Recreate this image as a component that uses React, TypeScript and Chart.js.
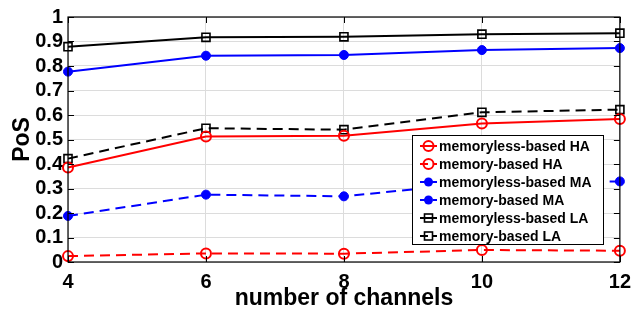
import React, { useEffect, useRef } from "react";
import { Chart, registerables } from "chart.js";

Chart.register(...registerables);

const channels = ["4", "6", "8", "10", "12"];
const memorylessHA = [0.386, 0.512, 0.515, 0.565, 0.584];
const memoryHA = [0.024, 0.035, 0.034, 0.049, 0.046];
const memorylessMA = [0.777, 0.842, 0.845, 0.865, 0.873];
const memoryMA = [0.188, 0.275, 0.268, 0.325, 0.329];
const memorylessLA = [0.879, 0.917, 0.919, 0.93, 0.934];
const memoryLA = [0.422, 0.546, 0.54, 0.611, 0.622];
const yTicks = [0, 0.1, 0.2, 0.3, 0.4, 0.5, 0.6, 0.7, 0.8, 0.9, 1];

const RED = "#ff0000";
const BLUE = "#0000ff";
const BLACK = "#000000";
const DASH = [10, 6];

type SeriesDef = {
  label: string;
  data: number[];
  color: string;
  dashed: boolean;
  marker: "circle" | "dot" | "rect";
};

const series: SeriesDef[] = [
  { label: "memoryless-based HA", data: memorylessHA, color: RED, dashed: false, marker: "circle" },
  { label: "memory-based HA", data: memoryHA, color: RED, dashed: true, marker: "circle" },
  { label: "memoryless-based MA", data: memorylessMA, color: BLUE, dashed: false, marker: "dot" },
  { label: "memory-based MA", data: memoryMA, color: BLUE, dashed: true, marker: "dot" },
  { label: "memoryless-based LA", data: memorylessLA, color: BLACK, dashed: false, marker: "rect" },
  { label: "memory-based LA", data: memoryLA, color: BLACK, dashed: true, marker: "rect" },
];

const FONT = "'Liberation Sans', Arial, Helvetica, sans-serif";

function drawMarker(ctx: CanvasRenderingContext2D, s: SeriesDef, x: number, y: number) {
  ctx.save();
  ctx.setLineDash([]);
  ctx.strokeStyle = s.color;
  ctx.fillStyle = s.color;
  if (s.marker === "circle") {
    ctx.lineWidth = 2;
    ctx.beginPath();
    ctx.arc(x, y, 5, 0, Math.PI * 2);
    ctx.stroke();
  } else if (s.marker === "dot") {
    ctx.beginPath();
    ctx.arc(x, y, 4.5, 0, Math.PI * 2);
    ctx.fill();
  } else {
    ctx.lineWidth = 1.6;
    ctx.strokeRect(x - 4, y - 4, 8, 8);
  }
  ctx.restore();
}

const framePlugin = {
  id: "frameAndLegend",
  afterDatasetsDraw(chart: any) {
    const { ctx, chartArea } = chart;
    const { left, right, top, bottom } = chartArea;
    const yScale = chart.scales.y;
    const xScale = chart.scales.x;
    ctx.save();
    ctx.strokeStyle = "#000";
    ctx.lineWidth = 1;
    ctx.setLineDash([]);
    ctx.beginPath();
    yTicks.forEach((v) => {
      const py = Math.round(yScale.getPixelForValue(v)) + 0.5;
      ctx.moveTo(left, py);
      ctx.lineTo(left + 6, py);
      ctx.moveTo(right, py);
      ctx.lineTo(right - 6, py);
    });
    channels.forEach((_, i) => {
      const px = Math.round(xScale.getPixelForValue(i)) + 0.5;
      ctx.moveTo(px, bottom);
      ctx.lineTo(px, bottom - 6);
      ctx.moveTo(px, top);
      ctx.lineTo(px, top + 6);
    });
    ctx.stroke();
    ctx.lineWidth = 1.2;
    ctx.strokeRect(left, top, right - left, bottom - top);

    const lx = 412;
    const ly = 135;
    const lw = 191;
    const rowH = 18;
    const lh = rowH * series.length + 1;
    ctx.fillStyle = "#ffffff";
    ctx.fillRect(lx, ly, lw, lh);
    ctx.strokeStyle = "#000";
    ctx.lineWidth = 1;
    ctx.strokeRect(lx + 0.5, ly + 0.5, lw, lh);
    ctx.font = `bold 14px ${FONT}`;
    ctx.textBaseline = "middle";
    ctx.textAlign = "left";
    series.forEach((s, i) => {
      const cy = ly + 11 + i * rowH;
      ctx.strokeStyle = s.color;
      ctx.lineWidth = 2;
      ctx.setLineDash(s.dashed ? [8, 5] : []);
      ctx.beginPath();
      ctx.moveTo(420, cy);
      ctx.lineTo(437, cy);
      ctx.stroke();
      ctx.setLineDash([]);
      drawMarker(ctx, s, 428.5, cy);
      ctx.fillStyle = "#000";
      ctx.fillText(s.label, 439, cy + 1);
    });
    ctx.restore();
  },
};

export default function App() {
  const canvasRef = useRef<HTMLCanvasElement | null>(null);

  useEffect(() => {
    document.body.style.margin = "0";
    const canvas = canvasRef.current;
    if (!canvas) return;
    const chart = new Chart(canvas, {
      type: "line",
      data: {
        labels: channels,
        datasets: series.map((s) => ({
          label: s.label,
          data: s.data,
          borderColor: s.color,
          borderWidth: 2,
          borderDash: s.dashed ? DASH : [],
          backgroundColor: s.marker === "dot" ? s.color : "rgba(0,0,0,0)",
          pointBackgroundColor: s.marker === "dot" ? s.color : "rgba(0,0,0,0)",
          pointBorderColor: s.color,
          pointBorderWidth: s.marker === "rect" ? 1.6 : s.marker === "circle" ? 2 : 1,
          pointStyle: s.marker === "rect" ? "rect" : "circle",
          pointRadius: s.marker === "rect" ? 5.7 : s.marker === "circle" ? 5 : 4.5,
          tension: 0,
          fill: false,
        })),
      },
      options: {
        animation: false,
        responsive: false,
        devicePixelRatio: 1,
        layout: { padding: { left: 0, top: 16, right: 18, bottom: 0 } },
        plugins: {
          legend: { display: false },
          tooltip: { enabled: false },
        },
        scales: {
          x: {
            type: "category",
            offset: false,
            grid: { color: "#dcdcdc", lineWidth: 1, drawTicks: false },
            border: { display: false },
            ticks: {
              color: "#000",
              font: { family: FONT, size: 20, weight: "bold" },
              padding: 8,
              maxRotation: 0,
              autoSkip: false,
            },
            title: {
              display: true,
              text: "number of channels",
              color: "#000",
              font: { family: FONT, size: 23, weight: "bold", lineHeight: 1 },
              padding: 0,
            },
            afterFit: (scale: any) => {
              scale.height = 48;
            },
          },
          y: {
            min: 0,
            max: 1,
            afterBuildTicks: (scale: any) => {
              scale.ticks = yTicks.map((v) => ({ value: v }));
            },
            grid: { color: "#dcdcdc", lineWidth: 1, drawTicks: false },
            border: { display: false },
            ticks: {
              color: "#000",
              font: { family: FONT, size: 20, weight: "bold" },
              padding: 5,
              autoSkip: false,
              callback: (v: any) => String(Math.round(Number(v) * 10) / 10),
            },
            title: {
              display: true,
              text: "PoS",
              color: "#000",
              font: { family: FONT, size: 23, weight: "bold", lineHeight: 1 },
              padding: { top: 11, bottom: 0 },
            },
            afterFit: (scale: any) => {
              scale.width = 68;
            },
          },
        },
      },
      plugins: [framePlugin],
    } as any);
    return () => chart.destroy();
  }, []);

  return (
    <div style={{ width: 639, height: 310, background: "#fff" }}>
      <canvas ref={canvasRef} width={639} height={310} style={{ display: "block" }} />
    </div>
  );
}
